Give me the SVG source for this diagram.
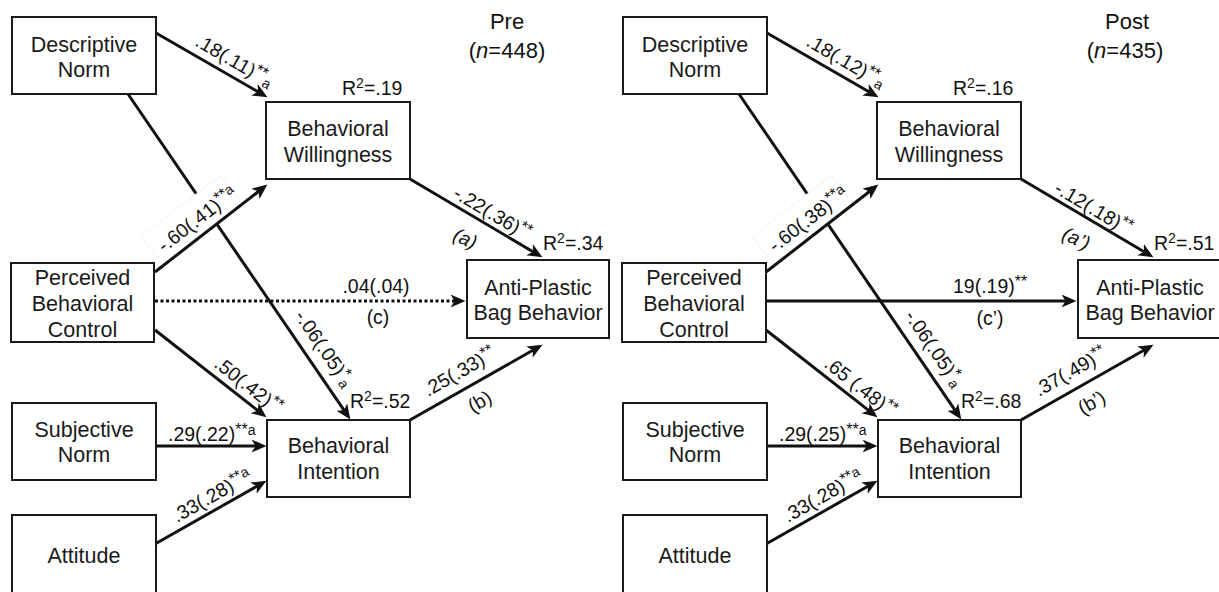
<svg xmlns="http://www.w3.org/2000/svg" width="1219" height="592" viewBox="0 0 1219 592">
<style>
.box{fill:#fff;stroke:#1a1a1a;stroke-width:2}
.nt{font-family:"Liberation Sans",Arial,sans-serif;font-size:21.5px;text-anchor:middle;fill:#1a1a1a}
.edge{stroke:#111;stroke-width:3;fill:none;marker-end:url(#arr)}
.dot{stroke-dasharray:3 2.5}
.lbl{font-family:"Liberation Sans",Arial,sans-serif;font-size:19.5px;fill:#111}
.mid{text-anchor:middle}
.it{font-style:italic}
.s{font-size:16px}
.sa{font-size:14px}
.ttl{font-family:"Liberation Sans",Arial,sans-serif;font-size:22px;fill:#111;text-anchor:middle}
.bg{fill:#fff;stroke:#f3f3f3;stroke-width:1}
</style>
<defs>
<marker id="arr" markerUnits="userSpaceOnUse" markerWidth="17" markerHeight="14" refX="9.5" refY="6.5" orient="auto">
<path d="M0,0 L15,6.5 L0,13 L4,6.5 z" fill="#111"/>
</marker>
</defs>
<rect width="1219" height="592" fill="#fff"/>

<g id="connectors">
<!-- left panel -->
<line class="edge" x1="128" y1="94" x2="347.2" y2="414.9"/>
<rect class="bg" transform="translate(164,253) rotate(-37.6)" x="-8" y="-27" width="100" height="35"/>
<line class="edge" x1="156" y1="33" x2="262.7" y2="94.5"/>
<line class="edge" x1="155" y1="272" x2="263" y2="188"/>
<line class="edge dot" x1="155" y1="301" x2="460" y2="301"/>
<line class="edge" x1="155" y1="330" x2="262.1" y2="413.9"/>
<line class="edge" x1="410" y1="179" x2="537.7" y2="254.5"/>
<line class="edge" x1="410" y1="420" x2="537.7" y2="347.5"/>
<line class="edge" x1="156" y1="446" x2="261" y2="446"/>
<line class="edge" x1="155" y1="544" x2="261.7" y2="483.5"/>
<!-- right panel -->
<line class="edge" x1="739" y1="94" x2="958.2" y2="414.9"/>
<rect class="bg" transform="translate(775,253) rotate(-37.6)" x="-8" y="-27" width="100" height="35"/>
<line class="edge" x1="767" y1="33" x2="873.7" y2="94.5"/>
<line class="edge" x1="766" y1="272" x2="874" y2="188"/>
<line class="edge" x1="766" y1="301" x2="1071" y2="301"/>
<line class="edge" x1="766" y1="330" x2="873.1" y2="413.9"/>
<line class="edge" x1="1021" y1="179" x2="1148.7" y2="254.5"/>
<line class="edge" x1="1021" y1="420" x2="1148.7" y2="347.5"/>
<line class="edge" x1="767" y1="446" x2="872" y2="446"/>
<line class="edge" x1="766" y1="544" x2="872.7" y2="483.5"/>

<!-- left labels -->
<text class="lbl" transform="translate(194,45) rotate(30)">.18(.11)<tspan class="s" dy="-6">**</tspan><tspan class="sa" dy="8">a</tspan></text>
<text class="lbl" transform="translate(294,316) rotate(55.7)">-.06(.05)<tspan class="s" dy="-6">*</tspan><tspan class="sa" dy="8">a</tspan></text>
<text class="lbl" transform="translate(164,253) rotate(-37.6)">-.60(.41)<tspan class="s" dy="-6">**</tspan><tspan class="sa">a</tspan></text>
<text class="lbl mid" x="376" y="293">.04(.04)</text>
<text class="lbl mid" x="378" y="324">(c)</text>
<text class="lbl" transform="translate(213,366) rotate(38)">.50(.42)<tspan class="s" dy="-6">**</tspan></text>
<text class="lbl" transform="translate(452,197) rotate(30.6)">-.22(.36)<tspan class="s" dy="-6">**</tspan></text>
<text class="lbl mid it" transform="translate(465,239) rotate(25)" y="6">(a)</text>
<text class="lbl" transform="translate(428,397) rotate(-29.6)">.25(.33)<tspan class="s" dy="-6">**</tspan></text>
<text class="lbl mid" transform="translate(480,402) rotate(-30)" y="6">(b)</text>
<text class="lbl" x="168" y="441">.29(.22)<tspan class="s" dy="-6">**</tspan><tspan class="sa">a</tspan></text>
<text class="lbl" transform="translate(177,523) rotate(-29.7)">.33(.28)<tspan class="s" dy="-6">**</tspan><tspan class="sa">a</tspan></text>

<!-- right labels -->
<text class="lbl" transform="translate(805,45) rotate(30)">.18(.12)<tspan class="s" dy="-6">**</tspan><tspan class="sa" dy="8">a</tspan></text>
<text class="lbl" transform="translate(904,316) rotate(55.7)">-.06(.05)<tspan class="s" dy="-6">*</tspan><tspan class="sa" dy="8">a</tspan></text>
<text class="lbl" transform="translate(775,253) rotate(-37.6)">-.60(.38)<tspan class="s" dy="-6">**</tspan><tspan class="sa">a</tspan></text>
<text class="lbl" x="953" y="293">19(.19)<tspan class="s" dy="-6">**</tspan></text>
<text class="lbl mid" x="990" y="325">(c’)</text>
<text class="lbl" transform="translate(823,366) rotate(38)">.65 (.48)<tspan class="s" dy="-6">**</tspan></text>
<text class="lbl" transform="translate(1053,192) rotate(30.6)">-.12(.18)<tspan class="s" dy="-6">**</tspan></text>
<text class="lbl mid it" transform="translate(1076,239) rotate(25)" y="6">(a’)</text>
<text class="lbl" transform="translate(1039,397) rotate(-29.6)">.37(.49)<tspan class="s" dy="-6">**</tspan></text>
<text class="lbl mid" transform="translate(1092,403) rotate(-30)" y="6">(b’)</text>
<text class="lbl" x="779" y="441">.29(.25)<tspan class="s" dy="-6">**</tspan><tspan class="sa">a</tspan></text>
<text class="lbl" transform="translate(788,523) rotate(-29.7)">.33(.28)<tspan class="s" dy="-6">**</tspan><tspan class="sa">a</tspan></text>
</g>

<!-- titles and R2 -->
<g id="titles">
<text class="ttl" x="507" y="29">Pre</text>
<text class="ttl" x="507" y="58">(<tspan font-style="italic">n</tspan>=448)</text>
<text class="ttl" x="1127" y="29">Post</text>
<text class="ttl" x="1125" y="58">(<tspan font-style="italic">n</tspan>=435)</text>
<text class="lbl" x="342" y="95">R<tspan class="sa" dy="-7">2</tspan><tspan dy="7">=.19</tspan></text>
<text class="lbl" x="543" y="250">R<tspan class="sa" dy="-7">2</tspan><tspan dy="7">=.34</tspan></text>
<text class="lbl" x="350" y="408">R<tspan class="sa" dy="-7">2</tspan><tspan dy="7">=.52</tspan></text>
<text class="lbl" x="953" y="95">R<tspan class="sa" dy="-7">2</tspan><tspan dy="7">=.16</tspan></text>
<text class="lbl" x="1154" y="250">R<tspan class="sa" dy="-7">2</tspan><tspan dy="7">=.51</tspan></text>
<text class="lbl" x="961" y="408">R<tspan class="sa" dy="-7">2</tspan><tspan dy="7">=.68</tspan></text>
</g>

<!-- left nodes -->
<g id="pre-descriptive-norm"><rect class="box" x="12" y="17" width="144" height="77"/><text class="nt" x="84" y="52">Descriptive</text><text class="nt" x="84" y="77">Norm</text></g>
<g id="pre-behavioral-willingness"><rect class="box" x="266" y="102" width="144" height="77"/><text class="nt" x="338" y="136">Behavioral</text><text class="nt" x="338" y="162">Willingness</text></g>
<g id="pre-pbc"><rect class="box" x="11" y="263" width="143" height="79"/><text class="nt" x="82.5" y="285">Perceived</text><text class="nt" x="82.5" y="311">Behavioral</text><text class="nt" x="82.5" y="337">Control</text></g>
<g id="pre-anti-plastic"><rect class="box" x="467" y="260" width="142" height="78"/><text class="nt" x="538" y="295">Anti-Plastic</text><text class="nt" x="538" y="320">Bag Behavior</text></g>
<g id="pre-subjective-norm"><rect class="box" x="12" y="403" width="144" height="77"/><text class="nt" x="84" y="437">Subjective</text><text class="nt" x="84" y="462">Norm</text></g>
<g id="pre-attitude"><rect class="box" x="12" y="515" width="144" height="78"/><text class="nt" x="84" y="563">Attitude</text></g>
<g id="pre-behavioral-intention"><rect class="box" x="267" y="420" width="143" height="77"/><text class="nt" x="338.5" y="453">Behavioral</text><text class="nt" x="338.5" y="479">Intention</text></g>

<!-- right nodes -->
<g id="post-descriptive-norm"><rect class="box" x="623" y="17" width="144" height="77"/><text class="nt" x="695" y="52">Descriptive</text><text class="nt" x="695" y="77">Norm</text></g>
<g id="post-behavioral-willingness"><rect class="box" x="877" y="102" width="144" height="77"/><text class="nt" x="949" y="136">Behavioral</text><text class="nt" x="949" y="162">Willingness</text></g>
<g id="post-pbc"><rect class="box" x="622" y="263" width="144" height="79"/><text class="nt" x="694" y="285">Perceived</text><text class="nt" x="694" y="311">Behavioral</text><text class="nt" x="694" y="337">Control</text></g>
<g id="post-anti-plastic"><rect class="box" x="1078" y="260" width="142" height="78"/><text class="nt" x="1150" y="295">Anti-Plastic</text><text class="nt" x="1150" y="320">Bag Behavior</text></g>
<g id="post-subjective-norm"><rect class="box" x="623" y="403" width="144" height="77"/><text class="nt" x="695" y="437">Subjective</text><text class="nt" x="695" y="462">Norm</text></g>
<g id="post-attitude"><rect class="box" x="623" y="515" width="144" height="78"/><text class="nt" x="695" y="563">Attitude</text></g>
<g id="post-behavioral-intention"><rect class="box" x="878" y="420" width="143" height="77"/><text class="nt" x="949.5" y="453">Behavioral</text><text class="nt" x="949.5" y="479">Intention</text></g>
</svg>
